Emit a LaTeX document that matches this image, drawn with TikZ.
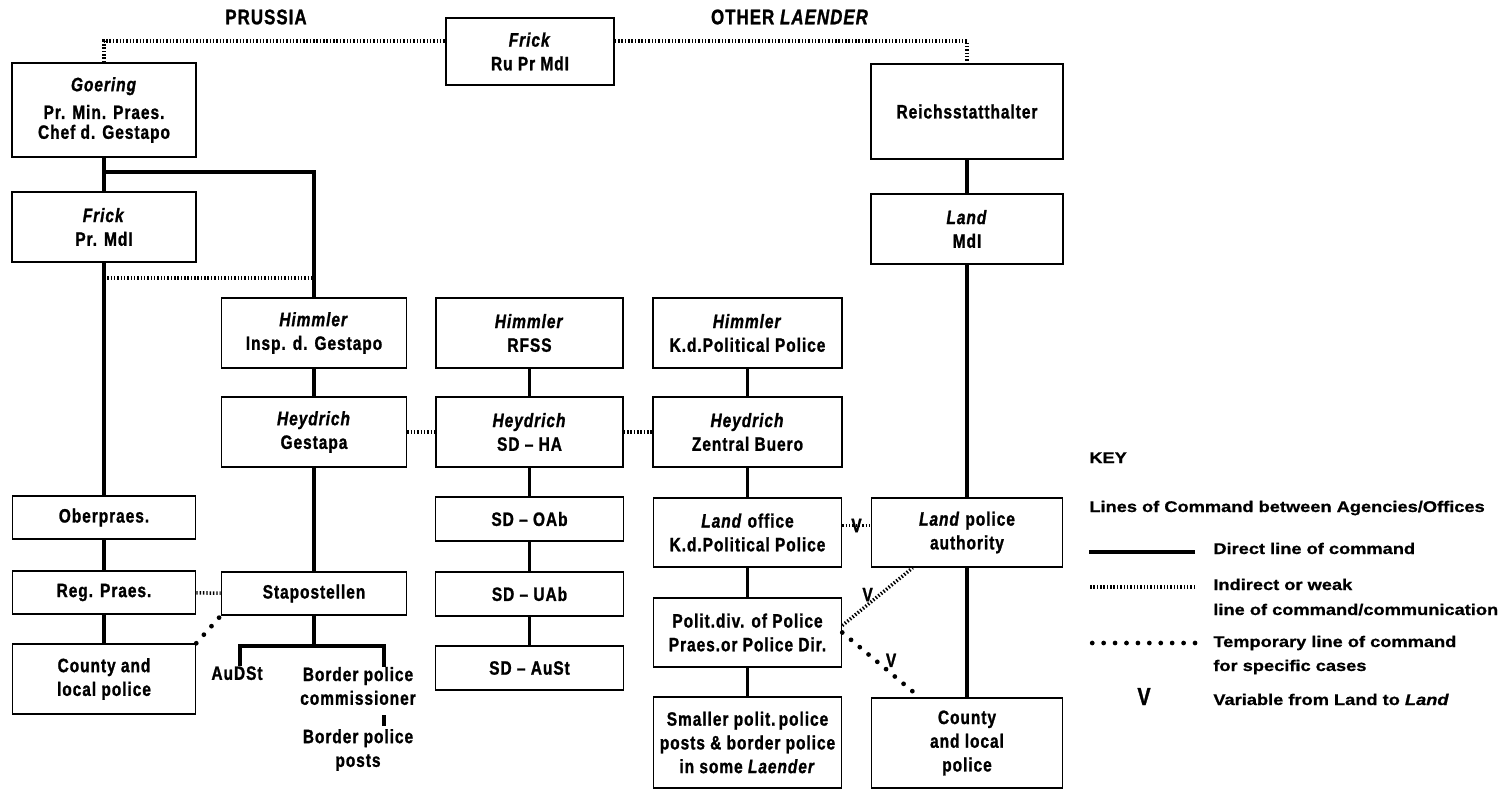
\documentclass[tikz,border=0pt]{standalone}
\usepackage{fontspec}
\newfontfamily\boxfont[FakeStretch=0.8,LetterSpace=5,FakeBold=1.2]{Liberation Sans}
\newfontfamily\keyfont[FakeStretch=1.18,FakeBold=0.8]{Liberation Sans}
\usetikzlibrary{positioning}

\tikzset{
  office/.style={draw, line width=0.9pt, align=center, inner sep=0pt,
    font=\boxfont\bfseries\fontsize{11}{13.5}\selectfont},
  plain/.style={align=center, inner sep=0pt,
    font=\boxfont\bfseries\fontsize{11}{13.5}\selectfont},
  vmark/.style={inner sep=0pt, font=\boxfont\bfseries\fontsize{11}{12}\selectfont},
  keytext/.style={anchor=base west, inner sep=0pt,
    font=\keyfont\bfseries\fontsize{8.8}{11}\selectfont},
  cmd/.style={line width=2pt},
  weak/.style={line width=2pt, dash pattern=on 0.8pt off 1.1pt},
  temp/.style={line width=2.7pt, line cap=round, dash pattern=on 0pt off 6.5pt},
}

\begin{document}
\begin{tikzpicture}[x=0.02cm,y=-0.02cm]
    \useasboundingbox (0,0) rectangle (1500,790);

    % headings
    \node[plain, font=\boxfont\bfseries\fontsize{12}{13}\selectfont] (prussia) at (266,17) {PRUSSIA};
    \node[plain, font=\boxfont\bfseries\fontsize{12}{13}\selectfont] (others) at (790,17) {OTHER \textit{LAENDER}};

    % Reich minister of the interior
    \node[office, minimum width=3.36cm, minimum height=1.34cm] (frickR) at (530,51.5) {\textit{Frick}\\Ru Pr MdI};

    % prussian side
    \node[office, minimum width=3.68cm, minimum height=1.88cm] (goering) at (104,110)
      {\textit{Goering}\\[2.3pt]Pr. Min. Praes.\\[-2.2pt]Chef d. Gestapo};
    \node[office, minimum width=3.68cm, minimum height=1.4cm] (frickP) at (104,227) {\textit{Frick}\\Pr. MdI};

    % other Laender
    \node[office, minimum width=3.84cm, minimum height=1.9cm] (reichs) at (967,111.5) {Reichsstatthalter};
    \node[office, minimum width=3.84cm, minimum height=1.4cm] (landMdI) at (967,229) {\textit{Land}\\MdI};

    % Himmler row
    \node[office, minimum width=3.7cm, minimum height=1.4cm] (himInsp) at (314,333) {\textit{Himmler}\\Insp. d. Gestapo};
    \node[office, minimum width=3.74cm, minimum height=1.4cm] (himRFSS) at (529.5,333) {\textit{Himmler}\\RFSS};
    \node[office, minimum width=3.78cm, minimum height=1.4cm] (himKd) at (747.5,333) {\textit{Himmler}\\K.d.Political Police};

    % Heydrich row
    \node[office, minimum width=3.7cm, minimum height=1.4cm] (heyGestapa) at (314,432) {\textit{Heydrich}\\Gestapa};
    \node[office, minimum width=3.74cm, minimum height=1.4cm] (heySD) at (529.5,432) {\textit{Heydrich}\\SD – HA};
    \node[office, minimum width=3.78cm, minimum height=1.4cm] (heyZB) at (747.5,432) {\textit{Heydrich}\\Zentral Buero};

    % middle offices
    \node[office, minimum width=3.66cm, minimum height=0.86cm] (oberpraes) at (104,517.5) {Oberpraes.};
    \node[office, minimum width=3.76cm, minimum height=0.88cm] (sdOAb) at (529.5,519) {SD – OAb};
    \node[office, minimum width=3.76cm, minimum height=1.38cm] (landOffice) at (747.5,532.5) {\textit{Land} office\\K.d.Political Police};
    \node[office, minimum width=3.82cm, minimum height=1.38cm] (landPolice) at (967,532.5) {\textit{Land} police\\authority};

    % lower offices
    \node[office, minimum width=3.66cm, minimum height=0.86cm] (regPraes) at (104,592.5) {Reg. Praes.};
    \node[office, minimum width=3.7cm, minimum height=0.86cm] (stapo) at (314,593.5) {Stapostellen};
    \node[office, minimum width=3.76cm, minimum height=0.88cm] (sdUAb) at (529.5,594) {SD – UAb};
    \node[office, minimum width=3.76cm, minimum height=1.38cm] (politDiv) at (747.5,632.5) {Polit.div. of Police\\Praes.or Police Dir.};

    % local level
    \node[office, minimum width=3.66cm, minimum height=1.4cm] (countyL) at (104,679) {County and\\local police};
    \node[office, minimum width=3.76cm, minimum height=0.88cm] (sdAuSt) at (529.5,668) {SD – AuSt};
    \node[office, minimum width=3.76cm, minimum height=1.82cm] (smaller) at (747.5,742.5)
      {Smaller polit.\,police\\posts \& border police\\in some \textit{Laender}};
    \node[office, minimum width=3.82cm, minimum height=1.8cm] (countyR) at (967,743) {County\\and local\\police};

    % below Stapostellen
    \node[plain, anchor=north] (audst) at (237,666) {AuDSt};
    \node[plain] (bpc) at (358,686) {Border police\\commissioner};
    \node[plain] (bpp) at (358,750) {Border police\\posts};

    %%%%%%%%%%%%%%%%%%%%%%%%%%%%%%%%%%%%%%%%%%%%%%%%%%%%%%

    % Frick (Reich) to both sides
    \draw[weak] (goering.north) |- ([yshift=0.21cm]frickR.west);
    \draw[weak] ([yshift=0.21cm]frickR.east) -| (reichs.north);

    % Goering chain
    \draw[cmd] (goering) -- (frickP) -- (oberpraes) -- (regPraes) -- (countyL);
    \coordinate (split) at (104,172);
    \draw[cmd] (split) -| (himInsp);
    \coordinate (weakY) at (0,278);
    \draw[weak] (frickP.south |- weakY) -- (himInsp.north |- weakY);
    \draw[cmd] (himInsp) -- (heyGestapa) -- (stapo);

    % Stapostellen fork
    \coordinate (forkL) at (240,646);
    \coordinate (forkR) at (384,646);
    \draw[cmd] (stapo) -- (stapo.south |- forkL);
    \draw[cmd] (audst.north -| forkL) -- (forkL) -- (forkR) -- (forkR |- bpc.north);
    \draw[cmd] ([yshift=-0.2cm]bpc.south -| forkR) -- ([yshift=0.06cm]bpp.north -| forkR);

    % cross links on the prussian side
    \draw[weak] (regPraes) -- (stapo);
    \draw[temp] (countyL.north east) -- (stapo.south west);
    \draw[weak] (heyGestapa) -- (heySD);
    \draw[weak] (heySD) -- (heyZB);

    % SD chain
    \draw[cmd] (himRFSS) -- (heySD) -- (sdOAb) -- (sdUAb) -- (sdAuSt);

    % political police chain
    \draw[cmd] (himKd) -- (heyZB) -- (landOffice) -- (politDiv) -- (smaller);

    % Land chain
    \draw[cmd] (reichs) -- (landMdI) -- (landPolice) -- (countyR);

    % links that vary from Land to Land
    \draw[weak] ([yshift=0.14cm]landOffice.east) -- node[vmark]{V} ([yshift=0.14cm]landPolice.west);
    \draw[weak] ([yshift=0.14cm]politDiv.east) -- node[vmark, pos=.36, above=1pt]{V} (landPolice.213);
    \draw[temp] (politDiv.east) -- node[vmark, pos=.55, above right=-1pt]{V} (countyR.136);

    %%%%%%%%%%%%%%%%%%%%%%%%%%%%%%%%%%%%%%%%%%%%%%%%%%%%%%

    % key
    \node[keytext] (keyHd) at (1089,463) {KEY};
    \node[keytext] (keyLines) at (1089,512) {Lines of Command between Agencies/Offices};
    \node[keytext] (keyDirect) at (1213,554) {Direct line of command};
    \node[keytext] (keyWeak) at (1213,590) {Indirect or weak};
    \node[keytext] (keyWeakB) at (1213,615) {line of command/communication};
    \node[keytext] (keyTemp) at (1213,647) {Temporary line of command};
    \node[keytext] (keyTempB) at (1213,671) {for specific cases};
    \node[keytext] (keyVar) at (1213,705) {Variable from Land to \textit{Land}};
    \node[anchor=base, inner sep=0pt, font=\boxfont\bfseries\fontsize{14}{14}\selectfont] (keyV) at (1144,705) {V};

    \draw[cmd, line width=2.6pt] ([xshift=-0.36cm,yshift=0.04cm]keyDirect.base west) -- ++(-106,0);
    \draw[weak] ([xshift=-0.36cm,yshift=0.06cm]keyWeak.base west) -- ++(-106,0);
    \draw[temp] ([xshift=-0.36cm,yshift=0.08cm]keyTemp.base west) -- ++(-106,0);

\end{tikzpicture}
\end{document}
